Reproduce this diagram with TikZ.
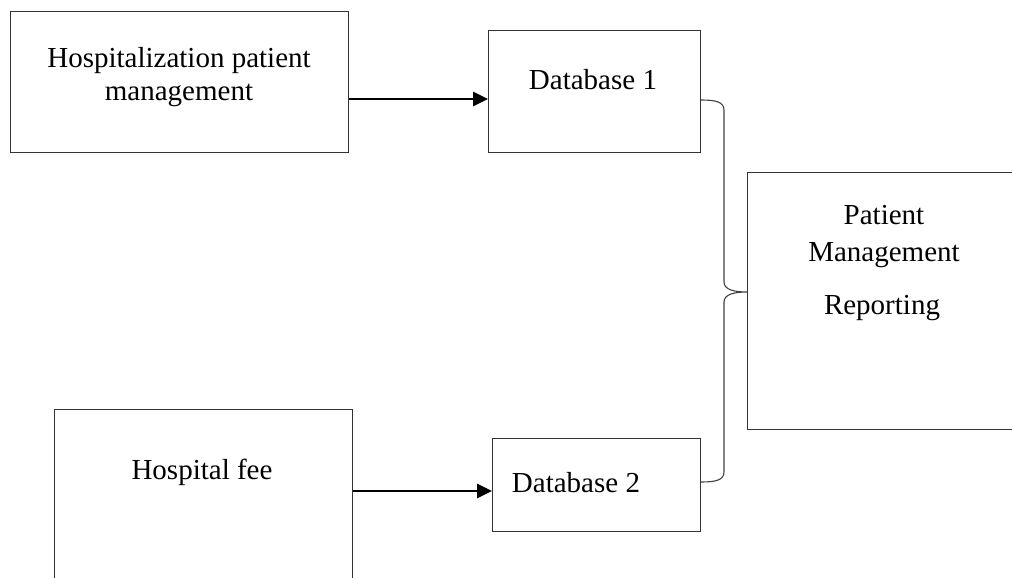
\documentclass[tikz,border=0pt]{standalone}
\usepackage{fontspec}
\setmainfont{Liberation Serif}
\usetikzlibrary{arrows.meta}
\begin{document}
\begin{tikzpicture}[x=1pt,y=-1pt,
  box/.style={draw=black!80,line width=1.1pt,inner sep=0pt,anchor=north west},
  lbl/.style={font=\fontsize{29}{33}\selectfont,align=center,inner sep=0pt},
  flow/.style={line width=2.6pt,-{Triangle[length=15pt,width=14pt]}}]
\useasboundingbox (0,0) rectangle (1012,578);
% boxes
\node[box,minimum width=338pt,minimum height=141pt] (hpm) at (10,11) {};
\node[box,minimum width=212pt,minimum height=122pt] (db1) at (488,30) {};
\node[box,minimum width=298pt,minimum height=190pt] (fee) at (54,409) {};
\node[box,minimum width=208pt,minimum height=93pt] (db2) at (492,438) {};
\node[box,minimum width=280pt,minimum height=257pt] (pmr) at (747,172) {};
% texts
\node[lbl] (thpm) at (179,77) {Hospitalization patient\\management};
\node[lbl] (tdb1) at (593,80) {Database 1};
\node[lbl] (tfee) at (202,472) {Hospital fee};
\node[lbl] (tdb2) at (576,483) {Database 2};
\node[lbl] (tp1) at (884,215) {Patient};
\node[lbl] (tp2) at (884,255) {Management};
\node[lbl] (tp3) at (882,308) {Reporting};
% arrows
\coordinate (a1) at (hpm.east |- 0,99);
\coordinate (b1) at (db1.west |- 0,99);
\coordinate (a2) at (fee.east |- 0,491);
\coordinate (b2) at (db2.west |- 0,491);
\draw[flow] (a1) -- (b1);
\draw[flow] (a2) -- (b2);
% brace joining both databases to the report
\coordinate (bt) at (db1.east |- 0,100);
\coordinate (bb) at (db2.east |- 0,482);
\coordinate (bm) at (pmr.west |- 0,292);
\draw[black!75,line width=1.1pt]
  (bt) .. controls (716,100) and (724,102) .. (724,110)
  -- (724,282) .. controls (724,290) and (735,292) .. (bm)
  .. controls (735,292) and (724,294) .. (724,302)
  -- (724,472) .. controls (724,480) and (716,482) .. (bb);
\end{tikzpicture}
\end{document}
